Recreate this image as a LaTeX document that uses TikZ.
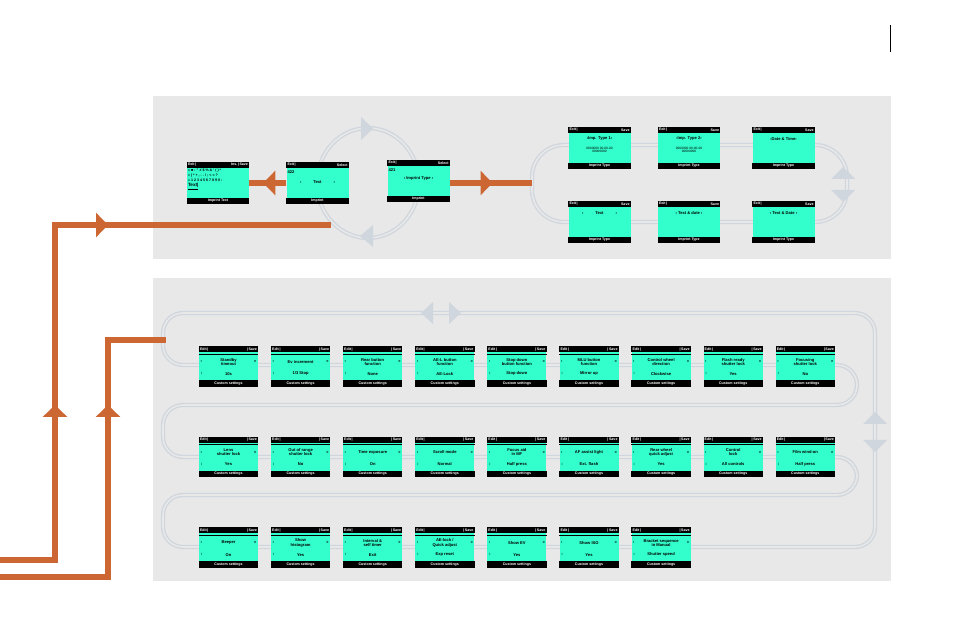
\documentclass[tikz,border=0pt]{standalone}
\usepackage{fontspec}
\setmainfont{Liberation Sans}
\usetikzlibrary{arrows.meta,decorations.markings}

\definecolor{rust}{RGB}{204,102,51}
\definecolor{panelgray}{RGB}{232,232,232}
\definecolor{lcdgreen}{RGB}{51,255,204}
\definecolor{trackgray}{RGB}{208,214,221}

\tikzset{
  panel/.style={fill=panelgray, draw=none},
  screen/.style={fill=lcdgreen, minimum width=59pt, minimum height=40pt, inner sep=0pt},
  bigscreen/.style={screen, minimum width=62pt, minimum height=42pt},
  bar/.style={text=white, font=\fontsize{3.6}{3.8}\selectfont\bfseries, inner sep=0pt},
  lcd/.style={font=\fontsize{4.1}{4.3}\selectfont\bfseries, inner sep=0pt, align=center},
  track/.style={draw=trackgray, double=panelgray, double distance=1.6pt, line width=1.3pt},
  trackhead/.style={fill=trackgray, draw=none},
  flow/.style={draw=rust, line width=5.5pt},
  tipat/.style={postaction={decorate}, decoration={markings,
    mark=at position #1 with {\arrow{Triangle[width=24pt,length=12pt]}}}},
}

% name, position, style, bar left, bar right, bar bottom
\newcommand{\lcdframe}[6]{%
  \node[#3] (#1) at (#2) {};
  \fill (#1.north west) rectangle ([yshift=-6pt]#1.north east);
  \fill (#1.south west) rectangle ([yshift=6.5pt]#1.south east);
  \node[bar, anchor=west] at ([xshift=1pt,yshift=-3pt]#1.north west) {#4};
  \node[bar, anchor=east] at ([xshift=-1pt,yshift=-3pt]#1.north east) {#5};
  \node[bar] at ([yshift=3.2pt]#1.south) {#6};
}
% custom setting screen: name, position, title, value
\newcommand{\setscreen}[4]{%
  \lcdframe{#1}{#2}{screen}{Edit\,|}{|\,Save}{Custom settings}
  \draw[line width=0.5pt] ([yshift=-7.5pt]#1.north west) -- ([yshift=-7.5pt]#1.north east);
  \node[lcd] at ([yshift=-15.5pt]#1.north) {#3};
  \node[lcd, anchor=west] at ([xshift=1.5pt,yshift=-15.5pt]#1.north west) {‹};
  \node[lcd, anchor=east] at ([xshift=-1.5pt,yshift=-15.5pt]#1.north east) {»};
  \node[lcd, anchor=west] at ([xshift=1.5pt,yshift=-27.5pt]#1.north west) {↕};
  \node[lcd] at ([yshift=-27.5pt]#1.north) {#4};
}

\begin{document}
\begin{tikzpicture}[x=1pt, y=-1pt]
\useasboundingbox (0,0) rectangle (954,644);
\fill[white] (0,0) rectangle (954,644);

% page mark
\draw[line width=0.8pt] (890,25) -- (890,52);

% panels
\fill[panel] (153,96) rectangle (891,259);
\fill[panel] (153,278) rectangle (891,581);

% imprint cycle
\draw[track] (368,183) ellipse [x radius=51pt, y radius=55pt];
\fill[trackhead] (361,117) -- (373,128.5) -- (361,140) -- cycle;
\fill[trackhead] (373,225) -- (360,236) -- (373,247) -- cycle;

% imprint type loop
\draw[track, rounded corners=32pt] (532,145) rectangle (847,222);
\fill[trackhead] (831,179) -- (843,167) -- (855,179) -- cycle;
\fill[trackhead] (831,190) -- (843,202) -- (855,190) -- cycle;

% custom settings loop
\draw[track, rounded corners=20pt] (875,430) -- (875,313) -- (163,313) -- (163,365)
  -- (857,365) -- (857,405) -- (163,405) -- (163,457) -- (857,457) -- (857,495)
  -- (163,495) -- (163,547) -- (875,547) -- cycle;
\fill[trackhead] (433,302) -- (421,313) -- (433,324) -- cycle;
\fill[trackhead] (449,302) -- (461,313) -- (449,324) -- cycle;
\fill[trackhead] (863,424) -- (875,412) -- (887,424) -- cycle;
\fill[trackhead] (863,440) -- (875,452) -- (887,440) -- cycle;

% imprint text
\lcdframe{itext}{218,183}{bigscreen}{Exit\,|}{Ins.\,|\,Save}{Imprint Text}
\node[lcd, anchor=north west, align=left, font=\fontsize{3.6}{5}\selectfont\bfseries]
  at ([xshift=1pt,yshift=-7pt]itext.north west)
  {« ■ : " \# \$ \% \& ' ( ) *\\» ) * + , - . / ; < = ?\\« 1 2 3 4 5 6 7 8 9 0 :\\\fontsize{4.6}{5}\selectfont\underline{Text|}};

% imprint
\lcdframe{itxt}{317.5,183}{bigscreen}{Exit\,|}{Select}{Imprint}
\node[lcd, anchor=west] at ([xshift=1pt,yshift=-10pt]itxt.north west) {422};
\node[lcd] at ([yshift=-20pt]itxt.north) {‹\hspace{12pt}Text\hspace{12pt}›};

\lcdframe{itype}{418.5,181}{bigscreen}{Exit\,|}{Select}{Imprint}
\node[lcd, anchor=west] at ([xshift=1pt,yshift=-10pt]itype.north west) {421};
\node[lcd] at ([yshift=-19pt]itype.north) {‹ Imprint Type ›};

% imprint types
\lcdframe{tya}{599.5,148}{bigscreen}{Exit\,|}{Save}{Imprint Type}
\node[lcd] at ([yshift=-12pt]tya.north) {‹Imp. Type 1›};
\node[lcd, font=\fontsize{3.2}{3.5}\selectfont] at ([yshift=-23pt]tya.north) {0000000 00-00-00\\00000000};
\lcdframe{tyb}{689,148}{bigscreen}{Exit\,|}{Save}{Imprint Type}
\node[lcd] at ([yshift=-12pt]tyb.north) {‹Imp. Type 2›};
\node[lcd, font=\fontsize{3.2}{3.5}\selectfont] at ([yshift=-23pt]tyb.north) {0000000 00-00-00\\00000000};
\lcdframe{tyc}{783.5,148}{bigscreen}{Exit\,|}{Save}{Imprint Type}
\node[lcd] at ([yshift=-12pt]tyc.north) {‹Date \& Time›};
\lcdframe{tyd}{599.5,222}{bigscreen}{Exit\,|}{Save}{Imprint Type}
\node[lcd] at ([yshift=-12pt]tyd.north) {‹\hspace{12pt}Text\hspace{12pt}›};
\lcdframe{tye}{689,222}{bigscreen}{Exit\,|}{Save}{Imprint Type}
\node[lcd] at ([yshift=-12pt]tye.north) {‹ Text \& date ›};
\lcdframe{tyf}{783.5,222}{bigscreen}{Exit\,|}{Save}{Imprint Type}
\node[lcd] at ([yshift=-12pt]tyf.north) {‹ Text \& Date ›};

% custom settings, row 1
\foreach \t/\v [count=\i from 0] in {{Standby\\timeout}/10s, {Ev increment}/{1/3 Stop},
    {Rear button\\function}/None, {AE-L button\\function}/AE-Lock,
    {Stop down\\button function}/{Stop down}, {MLU button\\function}/{Mirror up},
    {Control wheel\\direction}/Clockwise, {Flash ready\\shutter lock}/Yes,
    {Focusing\\shutter lock}/No}
  \setscreen{ra\i}{{228.5+72.1*\i},366.5}{\t}{\v};

% row 2
\foreach \t/\v [count=\i from 0] in {{Lens\\shutter lock}/Yes,
    {Out of range\\shutter lock}/No, {Time exposure}/On, {Scroll mode}/Normal,
    {Focus aid\\in MF}/{Half press}, {AF assist light}/{Ext. flash},
    {Rear wheel\\quick adjust}/Yes, {Control\\lock}/{All controls},
    {Film wind-on}/{Half press}}
  \setscreen{rb\i}{{228.5+72.1*\i},457}{\t}{\v};

% row 3
\foreach \t/\v [count=\i from 0] in {Beeper/On, {Show\\histogram}/Yes,
    {Interval \&\\self timer}/Exit, {AE-lock /\\Quick adjust}/{Exp reset},
    {Show EV}/Yes, {Show ISO}/Yes, {Bracket sequence\\in Manual}/{Shutter speed}}
  \setscreen{rc\i}{{228.5+72.1*\i},547.5}{\t}{\v};

% orange connectors
\coordinate (typein) at (532,183);
\coordinate (startA) at (0,560);
\coordinate (cyclein) at (331,225);
\coordinate (startB) at (0,577);
\coordinate (setin) at (166,340);
\draw[flow, tipat=0.62] (itxt.west) -- (itext.east);
\draw[flow, tipat=0.52] (itype.east |- typein) -- (typein);
\draw[flow, postaction={decorate}, decoration={markings,
    mark=at position 210pt with {\arrow{Triangle[width=24pt,length=12pt]}},
    mark=at position 443pt with {\arrow{Triangle[width=24pt,length=12pt]}}}]
  (startA) -| (cyclein -| 55,0) -- (cyclein);
\draw[flow, tipat=280pt] (startB) -| (setin -| 108,0) -- (setin);

\end{tikzpicture}
\end{document}
